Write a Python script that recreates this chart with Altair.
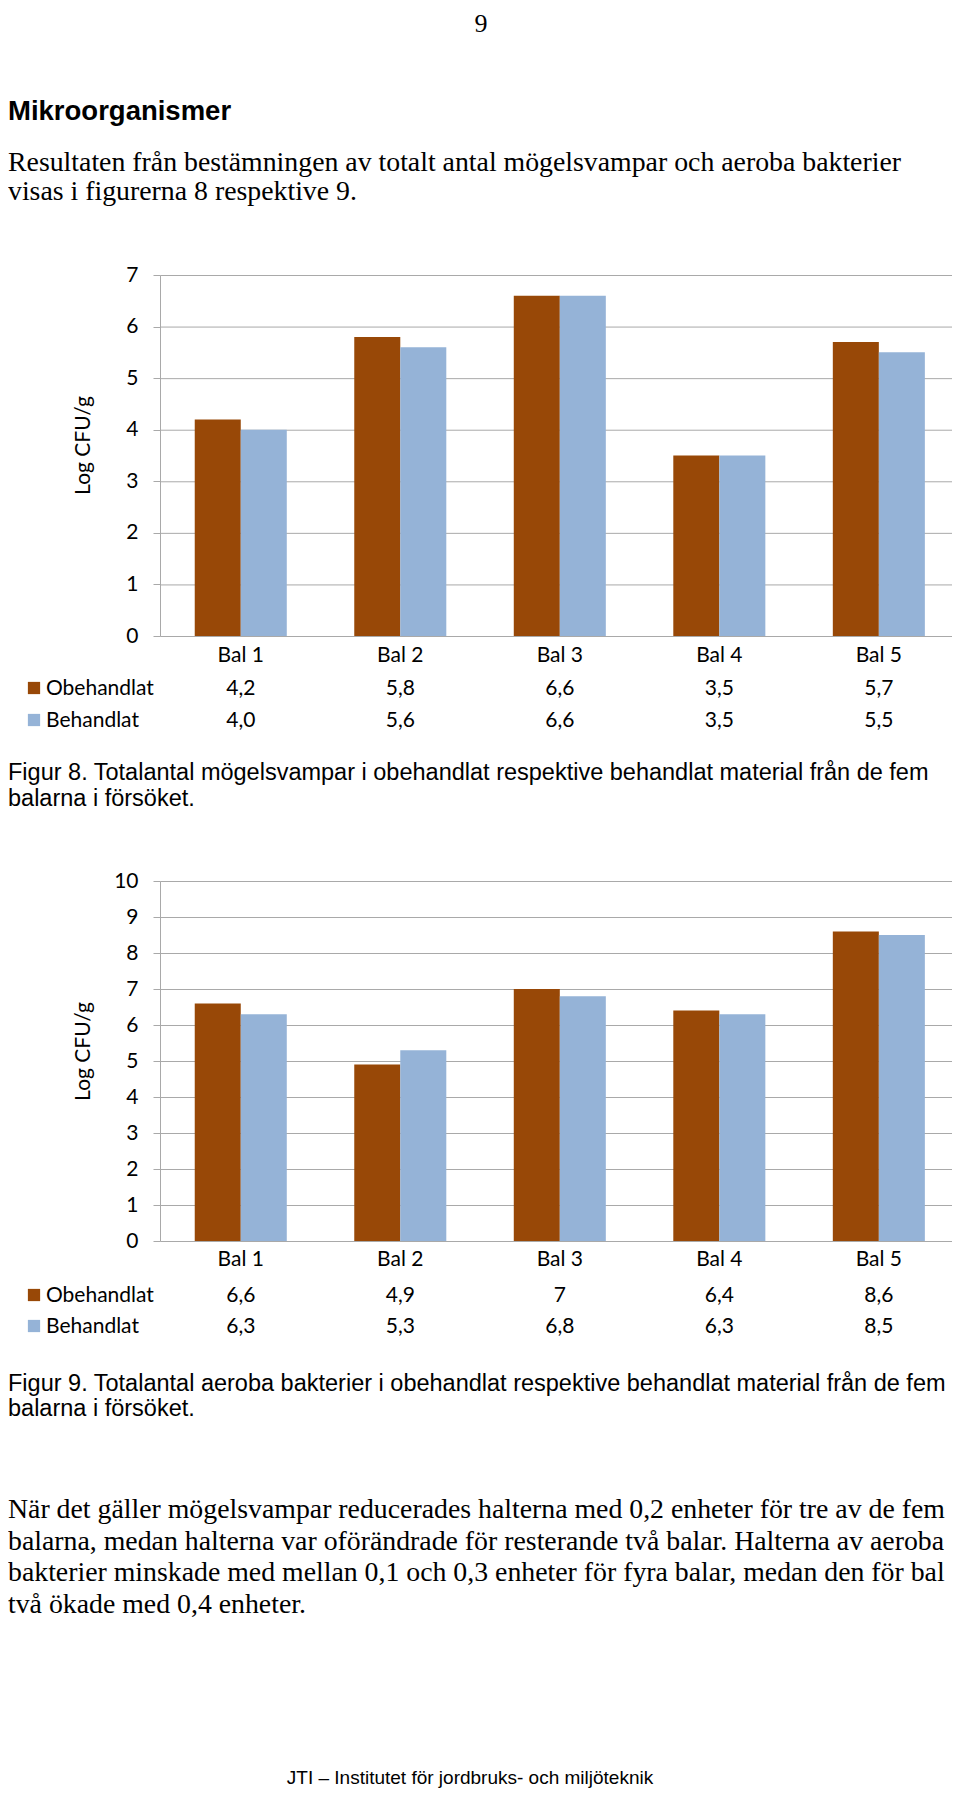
import altair as alt
import pandas as pd

# ---------------- data ----------------
categories = ["Bal 1", "Bal 2", "Bal 3", "Bal 4", "Bal 5"]
series = ["Obehandlat", "Behandlat"]
mogel_obehandlat = [4.2, 5.8, 6.6, 3.5, 5.7]
mogel_behandlat = [4.0, 5.6, 6.6, 3.5, 5.5]
bakterier_obehandlat = [6.6, 4.9, 7.0, 6.4, 8.6]
bakterier_behandlat = [6.3, 5.3, 6.8, 6.3, 8.5]
fig8_ticks = [0, 1, 2, 3, 4, 5, 6, 7]
fig9_ticks = [0, 1, 2, 3, 4, 5, 6, 7, 8, 9, 10]
axis_title = "Log CFU/g"

page_number = "9"
heading = "Mikroorganismer"
intro_lines = [
    "Resultaten från bestämningen av totalt antal mögelsvampar och aeroba bakterier",
    "visas i figurerna 8 respektive 9.",
]
caption8_lines = [
    "Figur 8. Totalantal mögelsvampar i obehandlat respektive behandlat material från de fem",
    "balarna i försöket.",
]
caption9_lines = [
    "Figur 9. Totalantal aeroba bakterier i obehandlat respektive behandlat material från de fem",
    "balarna i försöket.",
]
body_lines = [
    "När det gäller mögelsvampar reducerades halterna med 0,2 enheter för tre av de fem",
    "balarna, medan halterna var oförändrade för resterande två balar. Halterna av aeroba",
    "bakterier minskade med mellan 0,1 och 0,3 enheter för fyra balar, medan den för bal",
    "två ökade med 0,4 enheter.",
]
footer = "JTI – Institutet för jordbruks- och miljöteknik"


def fmt8(v):
    return f"{v:.1f}".replace(".", ",")


def fmt9(v):
    return f"{v:g}".replace(".", ",")


def long_df(obeh, beh, fmt):
    rows = []
    for s, vals in zip(series, [obeh, beh]):
        for c, v in zip(categories, vals):
            rows.append({"bal": c, "serie": s, "value": v, "label": fmt(v)})
    return pd.DataFrame(rows)


df8 = long_df(mogel_obehandlat, mogel_behandlat, fmt8)
df9 = long_df(bakterier_obehandlat, bakterier_behandlat, fmt9)

# ---------------- styles / layout ----------------
W, H = 944, 1781
BROWN, BLUE = "#984807", "#95B3D7"
GRID = "#a9a9a9"
CHART_FONT = "Lato"
SERIF = "Liberation Serif"
SANS = "Liberation Sans"

X_RANGE = [153, 950.6]
Y8_RANGE = [628, 267]
Y9_RANGE = [1233, 873]

cscale = alt.Scale(domain=series, range=[BROWN, BLUE])
xscale = alt.Scale(domain=categories, range=X_RANGE, paddingInner=0.423, paddingOuter=0.2115)


def xenc():
    return alt.X("bal:N", scale=xscale, axis=None)


def yscale(top, rng):
    return alt.Scale(domain=[0, top], range=rng, nice=False, zero=True)


def yaxis(ticks, title_y):
    return alt.Axis(
        orient="left", offset=-152, values=ticks, format="d", grid=False,
        domain=True, domainColor=GRID, domainWidth=1,
        ticks=True, tickColor=GRID, tickSize=7, tickWidth=1,
        labelFont=CHART_FONT, labelFontSize=21, labelColor="#000000", labelPadding=15,
        title=axis_title, titleFont=CHART_FONT, titleFontSize=21, titleFontWeight="normal",
        titleColor="#000000", titleX=-67, titleY=title_y,
    )


def bar_panel(df, ticks, rng, title_y, bal_y, row_ys):
    top = ticks[-1]
    grid = alt.Chart(pd.DataFrame({"t": ticks})).mark_rule(
        color=GRID, strokeWidth=1, yOffset=0.5
    ).encode(
        y=alt.Y("t:Q", scale=yscale(top, rng), axis=None),
        x=alt.value(152.5), x2=alt.value(W),
    )
    bars = alt.Chart(df).mark_bar().encode(
        x=xenc(),
        xOffset=alt.XOffset("serie:N", scale=alt.Scale(domain=series, paddingInner=0, paddingOuter=0)),
        y=alt.Y("value:Q", scale=yscale(top, rng), axis=yaxis(ticks, title_y)),
        color=alt.Color("serie:N", scale=cscale, legend=None),
    )
    cat_labels = alt.Chart(pd.DataFrame({"bal": categories})).mark_text(
        font=CHART_FONT, fontSize=21, baseline="alphabetic", color="#000000"
    ).encode(x=xenc(), y=alt.value(bal_y), text="bal:N")
    layers = [grid, bars, cat_labels]
    for s, ry in zip(series, row_ys):
        vals = alt.Chart(df).transform_filter(alt.datum.serie == s).mark_text(
            font=CHART_FONT, fontSize=21, baseline="alphabetic", color="#000000"
        ).encode(x=xenc(), y=alt.value(ry), text="label:N")
        sq = alt.Chart(pd.DataFrame({"serie": [s]})).mark_square(
            size=150, opacity=1, filled=True
        ).encode(
            x=alt.value(26), y=alt.value(ry - 7),
            color=alt.Color("serie:N", scale=cscale, legend=None),
        )
        name = alt.Chart(pd.DataFrame({"serie": [s]})).mark_text(
            font=CHART_FONT, fontSize=21, baseline="alphabetic", align="left", color="#000000"
        ).encode(x=alt.value(38), y=alt.value(ry), text="serie:N")
        layers += [vals, sq, name]
    return layers


def text_block(lines, x, y, font, size, line_height=None, weight="normal", align="left"):
    kw = dict(font=font, fontSize=size, fontWeight=weight, align=align,
              baseline="alphabetic", color="#000000", lineBreak="\n")
    if line_height:
        kw["lineHeight"] = line_height
    return alt.Chart(pd.DataFrame({"t": ["\n".join(lines)]})).mark_text(**kw).encode(
        x=alt.value(x), y=alt.value(y), text="t:N"
    )


layers = []
layers += bar_panel(df8, fig8_ticks, Y8_RANGE, 437, 653.5, [687, 719])
layers += bar_panel(df9, fig9_ticks, Y9_RANGE, 1043, 1258, [1294, 1325])
layers += [
    text_block([page_number], 473, 24, SERIF, 26, align="center"),
    text_block([heading], 0, 111.5, SANS, 27.5, weight="bold"),
    text_block(intro_lines, 0, 163, SERIF, 27.8, line_height=28.5),
    text_block(caption8_lines, 0, 771.5, SANS, 23.5, line_height=26),
    text_block(caption9_lines, 0, 1383, SANS, 23.5, line_height=25),
    text_block(body_lines, 0, 1510, SERIF, 27.8, line_height=31.7),
    text_block([footer], 462, 1776, SANS, 19, align="center"),
]

chart = alt.layer(*layers).resolve_scale(y="independent").properties(
    width=W, height=H, padding=0,
    autosize=alt.AutoSizeParams(type="none"),
    background="white",
).configure_view(stroke=None)

chart.save("out.html", embed_options={"renderer": "svg", "actions": False})
